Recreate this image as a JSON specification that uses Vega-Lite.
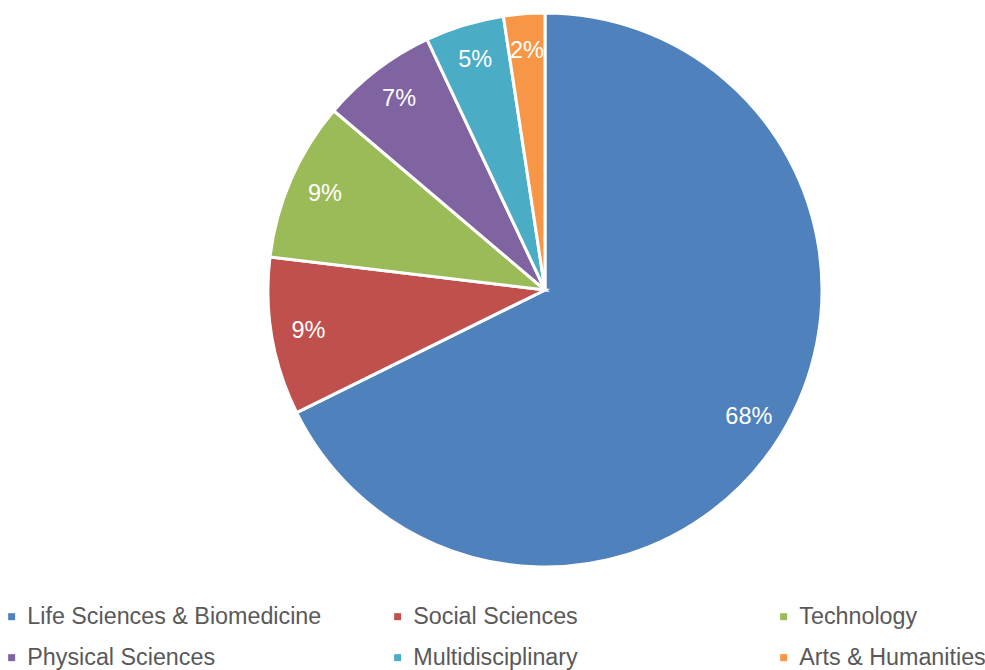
{
  "$schema": "https://vega.github.io/schema/vega-lite/v6.json",
  "width": 554,
  "height": 554,
  "autosize": {"type": "none"},
  "padding": {"left": 268, "top": 13, "right": 163, "bottom": 103},
  "background": "white",
  "config": {"view": {"stroke": null}, "font": "Liberation Sans"},
  "data": {
    "values": [
      {"category": "Life Sciences & Biomedicine", "share": 0.677, "ord": 1},
      {"category": "Social Sciences", "share": 0.092, "ord": 2},
      {"category": "Technology", "share": 0.093, "ord": 3},
      {"category": "Physical Sciences", "share": 0.068, "ord": 4},
      {"category": "Multidisciplinary", "share": 0.046, "ord": 5},
      {"category": "Arts & Humanities", "share": 0.024, "ord": 6}
    ]
  },
  "encoding": {
    "theta": {"field": "share", "type": "quantitative", "stack": true},
    "order": {"field": "ord", "type": "quantitative"},
    "color": {
      "field": "category",
      "type": "nominal",
      "scale": {
        "domain": ["Life Sciences & Biomedicine", "Social Sciences", "Technology", "Physical Sciences", "Multidisciplinary", "Arts & Humanities"],
        "range": ["#4F81BD", "#C0504D", "#9BBB59", "#8064A2", "#4BACC6", "#F79646"]
      },
      "legend": {
        "title": null,
        "orient": "none",
        "legendX": -268,
        "legendY": 592,
        "direction": "horizontal",
        "columns": 3,
        "gridAlign": "all",
        "columnPadding": 64,
        "rowPadding": 17,
        "padding": 0,
        "symbolType": "square",
        "symbolSize": 49,
        "symbolStrokeWidth": 0,
        "labelFontSize": 23.3,
        "labelColor": "#595959",
        "labelOffset": 4,
        "labelLimit": 0
      }
    }
  },
  "layer": [
    {
      "mark": {"type": "arc", "stroke": "white", "strokeWidth": 3}
    },
    {
      "mark": {"type": "text", "radius": 240, "fontSize": 23.5, "align": "center", "baseline": "middle"},
      "encoding": {
        "text": {"field": "share", "type": "quantitative", "format": ".0%"},
        "color": {"value": "white"}
      }
    }
  ]
}
